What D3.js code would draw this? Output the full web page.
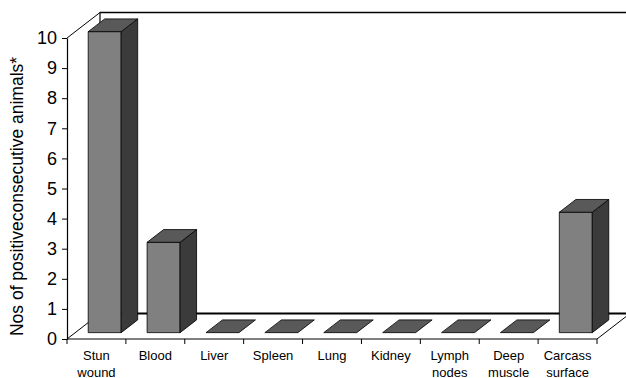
<!DOCTYPE html>
<html>
<head>
<meta charset="utf-8">
<script src="https://cdn.jsdelivr.net/npm/d3@7"></script>
<style>
  body { margin: 0; background: #fff; }
  text { font-family: "Liberation Sans", Arial, sans-serif; fill: #000; }
</style>
</head>
<body>
<div id="chart"></div>
<script>
const categories = [['Stun', 'wound'], ['Blood'], ['Liver'], ['Spleen'], ['Lung'], ['Kidney'], ['Lymph', 'nodes'], ['Deep', 'muscle'], ['Carcass', 'surface']]
const values = [10, 3, 0, 0, 0, 0, 0, 0, 4]
const yTicks = [0, 1, 2, 3, 4, 5, 6, 7, 8, 9, 10]
const yTitle = 'Nos of positiveconsecutive animals*'

const width = 626, height = 378
// depth offset of the 3D box
const dx = 33, dy = -25.5

const svg = d3.select('#chart').append('svg')
  .attr('width', width).attr('height', height)

const x = d3.scaleBand()
  .domain(d3.range(categories.length))
  .range([67, 597])
  .paddingInner(0.44)
  .paddingOuter(0.22)

const y = d3.scaleLinear().domain([0, 10]).range([339, 38])

const x0 = x.range()[0], x1 = x.range()[1]
const yb = y(0), yt = y(10)

// walls and floor
const frame = svg.append('g').attr('fill', 'none').attr('stroke', '#000')
frame.append('line').attr('x1', x0 + dx).attr('y1', yt + dy).attr('x2', width).attr('y2', yt + dy).attr('stroke-width', 1.4)
frame.append('line').attr('x1', x0 + dx).attr('y1', yt + dy).attr('x2', x0 + dx).attr('y2', yb + dy).attr('stroke-width', 1.2)
frame.append('line').attr('x1', x0 + dx).attr('y1', yb + dy).attr('x2', width).attr('y2', yb + dy).attr('stroke-width', 2)
frame.append('line').attr('x1', x0).attr('y1', yt).attr('x2', x0 + dx).attr('y2', yt + dy)
frame.append('line').attr('x1', x0).attr('y1', yb).attr('x2', x0 + dx).attr('y2', yb + dy)
frame.append('line').attr('x1', x1).attr('y1', yb).attr('x2', x1 + dx).attr('y2', yb + dy)

// bars
const d0 = 0.25, d1 = 0.75
const bars = svg.append('g').attr('stroke', '#000').attr('stroke-width', 0.8).attr('stroke-linejoin', 'round')
values.forEach((v, i) => {
  const bx = x(i) + dx * d0
  const bw = x.bandwidth()
  const by0 = y(0) + dy * d0
  const by1 = y(v) + dy * d0
  const ox = dx * (d1 - d0), oy = dy * (d1 - d0)
  const g = bars.append('g')
  if (v > 0) {
    g.append('rect').attr('x', bx).attr('y', by1).attr('width', bw).attr('height', by0 - by1).attr('fill', '#808080')
    g.append('path').attr('fill', '#3b3b3b')
      .attr('d', `M${bx + bw},${by0}L${bx + bw + ox},${by0 + oy}L${bx + bw + ox},${by1 + oy}L${bx + bw},${by1}Z`)
  }
  g.append('path').attr('fill', '#595959')
    .attr('d', `M${bx},${by1}L${bx + bw},${by1}L${bx + bw + ox},${by1 + oy}L${bx + ox},${by1 + oy}Z`)
})

// front axes
const yAxis = d3.axisLeft(y).tickValues(yTicks).tickSize(5).tickSizeOuter(0)
const ga = svg.append('g').attr('transform', `translate(${x0},0)`).call(yAxis)
ga.select('.domain').attr('stroke-width', 1.2)
ga.selectAll('text').attr('font-size', 18).attr('dx', -2)

svg.append('line').attr('x1', x0).attr('y1', yb).attr('x2', x1).attr('y2', yb).attr('stroke', '#000').attr('stroke-width', 1.2)
const step = x.step()
d3.range(categories.length + 1).forEach(i => {
  svg.append('line').attr('x1', x0 + i * step).attr('x2', x0 + i * step)
    .attr('y1', yb).attr('y2', yb + 5).attr('stroke', '#000')
})

const labels = svg.append('g').attr('font-size', 13).attr('text-anchor', 'middle')
categories.forEach((c, i) => {
  const t = labels.append('text').attr('x', x0 + (i + 0.5) * step).attr('y', 360)
  c.forEach((line, j) => {
    t.append('tspan').attr('x', x0 + (i + 0.5) * step).attr('dy', j === 0 ? 0 : 16.5).text(line)
  })
})

svg.append('text')
  .attr('transform', `translate(23,${(yb + yt) / 2 + 8}) rotate(-90)`)
  .attr('text-anchor', 'middle')
  .attr('font-size', 17.5)
  .text(yTitle)
</script>
</body>
</html>
